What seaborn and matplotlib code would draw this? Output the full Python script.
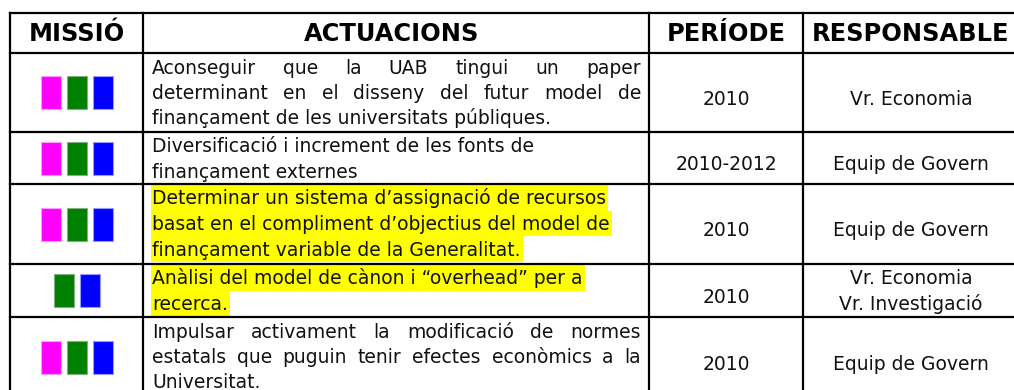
import seaborn as sns
import matplotlib.pyplot as plt
from matplotlib.patches import Rectangle

# Dades de la taula
headers = ["MISSIÓ", "ACTUACIONS", "PERÍODE", "RESPONSABLE"]

missions = [
    ["M", "G", "B"],
    ["M", "G", "B"],
    ["M", "G", "B"],
    ["G", "B"],
    ["M", "G", "B"],
]

actuacions = [
    ["Aconseguir que la UAB tingui un paper",
     "determinant en el disseny del futur model de",
     "finançament de les universitats públiques."],
    ["Diversificació i increment de les fonts de",
     "finançament externes"],
    ["Determinar un sistema d’assignació de recursos",
     "basat en el compliment d’objectius del model de",
     "finançament variable de la Generalitat."],
    ["Anàlisi del model de cànon i “overhead” per a",
     "recerca."],
    ["Impulsar activament la modificació de normes",
     "estatals que puguin tenir efectes econòmics a la",
     "Universitat."],
]

justified = [True, False, False, False, True]
highlighted = [False, False, True, True, False]

periodes = ["2010", "2010-2012", "2010", "2010", "2010"]

responsables = [
    ["Vr. Economia"],
    ["Equip de Govern"],
    ["Equip de Govern"],
    ["Vr. Economia", "Vr. Investigació"],
    ["Equip de Govern"],
]

mission_colors = {"M": "#FF00FF", "G": "#008000", "B": "#0000FF"}
mission_edges = {"M": "#FF99FF", "G": "#80B080", "B": "#9999FF"}

# Geometria (pixels)
col_x = [10, 143, 649, 803, 1019]
row_y = [13, 53, 132, 184, 264, 317, 397]
line_h = 25.5
text_left = 152
text_right = 641
sq_w, sq_h, sq_step = 20, 33, 26


def text_width(ax, renderer, s, **kw):
    t = ax.text(0, 0, s, **kw)
    w = t.get_window_extent(renderer).width
    t.remove()
    return w


sns.set_theme(style="white")
plt.rcParams['font.family'] = ['DejaVu Sans']

fig = plt.figure(figsize=(10.14, 3.9), dpi=100)
ax = fig.add_axes([0, 0, 1, 1])
ax.set_xlim(0, 1014)
ax.set_ylim(390, 0)
ax.axis('off')
renderer = fig.canvas.get_renderer()

# mides de lletra ajustades a l'amplada del model
fs = 10 * 383 / text_width(ax, renderer, "Diversificació i increment de les fonts de", fontsize=10)
fs_head = 10 * 198 / text_width(ax, renderer, "RESPONSABLE", fontsize=10, fontweight='bold')

# Capçalera
for j, h in enumerate(headers):
    cx = (col_x[j] + col_x[j + 1]) / 2
    if j == 1:
        cx = 392
    if j == 3:
        cx = 911
    ax.text(cx, (row_y[0] + row_y[1]) / 2 + 1, h, ha='center', va='center',
            fontsize=fs_head, fontweight='bold', color='black')

# Files
for i in range(len(actuacions)):
    top, bottom = row_y[i + 1], row_y[i + 2]
    cy = (top + bottom) / 2

    # quadrats de missió
    n = len(missions[i])
    cx0 = (col_x[0] + col_x[1]) / 2 - (n - 1) * sq_step / 2
    for k, m in enumerate(missions[i]):
        ax.add_patch(Rectangle((cx0 + k * sq_step - sq_w / 2, cy - sq_h / 2), sq_w, sq_h,
                               facecolor=mission_colors[m], edgecolor=mission_edges[m], lw=0.8))

    # actuacions
    lines = actuacions[i]
    for k, line in enumerate(lines):
        ltop = top + 1 + k * line_h
        base = ltop + 19.5
        last = k == len(lines) - 1
        if justified[i] and not last:
            words = line.split(' ')
            ws = [text_width(ax, renderer, w, fontsize=fs) for w in words]
            gap = (text_right - text_left - sum(ws)) / (len(words) - 1)
            x = text_left
            for w, ww in zip(words, ws):
                ax.text(x, base, w, ha='left', va='baseline', fontsize=fs, color='#111111')
                x += ww + gap
        else:
            if highlighted[i]:
                lw_ = text_width(ax, renderer, line, fontsize=fs)
                ax.add_patch(Rectangle((text_left - 1, ltop), lw_ + 3, line_h,
                                       facecolor='#FFFF00', edgecolor='none', zorder=0))
            ax.text(text_left, base, line, ha='left', va='baseline', fontsize=fs,
                    color='#111111', zorder=2)

    # període
    ax.text((col_x[2] + col_x[3]) / 2, cy + 12.5, periodes[i], ha='center',
            va='baseline', fontsize=fs, color='#111111')

    # responsable
    resp = responsables[i]
    if len(resp) == 1:
        ax.text(911, cy + 12.5, resp[0], ha='center', va='baseline', fontsize=fs, color='#111111')
    else:
        for k, r in enumerate(resp):
            ax.text(911, top + 1 + k * line_h + 19.5, r, ha='center', va='baseline',
                    fontsize=fs, color='#111111')

# Línies de la taula
for x in col_x:
    ax.plot([x, x], [row_y[0], row_y[-1]], color='black', lw=1.6, solid_capstyle='projecting')
for y in row_y:
    ax.plot([col_x[0], col_x[-1]], [y, y], color='black', lw=1.6, solid_capstyle='projecting')

fig.savefig('out.png', dpi=100)
